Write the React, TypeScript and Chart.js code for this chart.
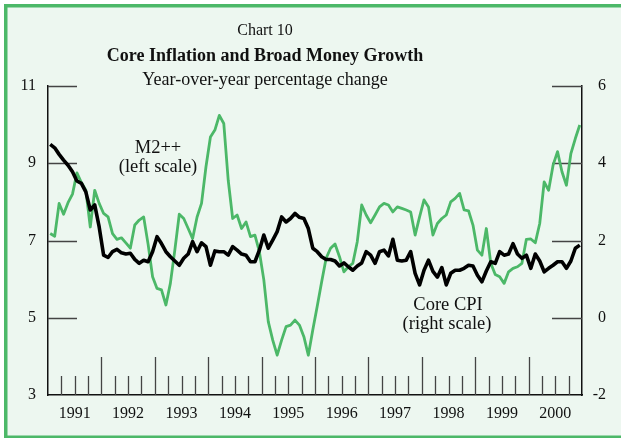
import { useEffect, useRef } from "react";
import { Chart, registerables } from "chart.js";

Chart.register(...registerables);

const years = ["1991", "1992", "1993", "1994", "1995", "1996", "1997", "1998", "1999", "2000"];

// M2++, year-over-year % change (left scale), monthly Jan 1991 - Dec 2000
const m2pp = [
  7.18, 7.11, 7.96, 7.68, 7.98, 8.2, 8.75, 8.5, 8.3, 7.35, 8.3, 7.96,
  7.7, 7.61, 7.18, 7.03, 7.07, 6.94, 6.8, 7.4, 7.53, 7.61, 6.9, 6.06,
  5.76, 5.72, 5.33, 5.89, 6.75, 7.68, 7.57, 7.31, 7.05, 7.61, 7.96, 8.91,
  9.68, 9.86, 10.24, 10.03, 8.56, 7.57, 7.66, 7.31, 7.48, 7.1, 7.14, 6.71,
  5.98, 4.9, 4.42, 4.03, 4.42, 4.77, 4.81, 4.94, 4.81, 4.51, 4.03, 4.68,
  5.3, 5.93, 6.54, 6.8, 6.91, 6.58, 6.19, 6.32, 6.41, 6.97, 7.92, 7.66,
  7.46, 7.66, 7.87, 7.96, 7.92, 7.74, 7.87, 7.83, 7.79, 7.74, 7.14, 7.61,
  8.05, 7.87, 7.14, 7.44, 7.57, 7.66, 8.0, 8.09, 8.22, 7.79, 7.77, 7.4,
  6.75, 6.62, 7.31, 6.41, 6.12, 6.06, 5.89, 6.19, 6.28, 6.32, 6.41, 7.03,
  7.04, 6.94, 7.44, 8.52, 8.3, 8.95, 9.3, 8.78, 8.43, 9.25, 9.64, 9.99,
];

// Core CPI, year-over-year % change (right scale)
const coreCpi = [
  4.49, 4.4, 4.23, 4.08, 3.95, 3.78, 3.54, 3.48, 3.26, 2.79, 2.92, 2.35,
  1.62, 1.56, 1.71, 1.77, 1.68, 1.65, 1.67, 1.51, 1.41, 1.49, 1.45, 1.71,
  2.1, 1.92, 1.71, 1.58, 1.47, 1.36, 1.54, 1.65, 1.97, 1.71, 1.94, 1.84,
  1.36, 1.73, 1.71, 1.71, 1.62, 1.84, 1.75, 1.65, 1.62, 1.45, 1.45, 1.75,
  2.14, 1.8, 2.01, 2.23, 2.61, 2.48, 2.57, 2.7, 2.6, 2.57, 2.31, 1.8,
  1.71, 1.58, 1.51, 1.51, 1.47, 1.34, 1.42, 1.32, 1.23, 1.34, 1.42, 1.71,
  1.62, 1.41, 1.71, 1.75, 1.6, 2.03, 1.49, 1.47, 1.49, 1.71, 1.15, 0.85,
  1.23, 1.49, 1.2, 1.05, 1.3, 0.85, 1.15, 1.23, 1.23, 1.28, 1.36, 1.34,
  1.1, 0.93, 1.21, 1.45, 1.41, 1.71, 1.62, 1.65, 1.92, 1.65, 1.54, 1.62,
  1.28, 1.65, 1.47, 1.19, 1.28, 1.36, 1.45, 1.45, 1.28, 1.47, 1.8, 1.88,
];

const leftTicks = [3, 5, 7, 9, 11];
const rightTicks = [-2, 0, 2, 4, 6];
const titleLines = ["Chart 10", "Core Inflation and Broad Money Growth", "Year-over-year percentage change"];
const m2Label = ["M2++", "(left scale)"];
const cpiLabel = ["Core CPI", "(right scale)"];

const GREEN = "rgb(76,184,104)";
const BG = "rgb(237,247,240)";
const SERIF = "'Liberation Serif', 'DejaVu Serif', serif";

export default function App() {
  const ref = useRef<HTMLCanvasElement>(null);

  useEffect(() => {
    const canvas = ref.current;
    if (!canvas) return;
    const months = m2pp.length;

    const decor = {
      id: "decor",
      beforeDraw(chart: any) {
        const ctx = chart.ctx;
        ctx.save();
        ctx.fillStyle = "#ffffff";
        ctx.fillRect(0, 0, chart.width, chart.height);
        ctx.fillStyle = BG;
        ctx.fillRect(4, 4, chart.width, chart.height);
        ctx.fillStyle = GREEN;
        ctx.fillRect(4, 4, chart.width, 3.5);
        ctx.fillRect(4, 4, 3.5, chart.height);
        ctx.fillRect(4, chart.height - 2.5, chart.width, 2.5);
        ctx.restore();
      },
      beforeDatasetsDraw(chart: any) {
        const ctx = chart.ctx;
        const { left, right, bottom } = chart.chartArea;
        const xs = chart.scales.x;
        const yl = chart.scales.y;
        const yr = chart.scales.y1;
        ctx.save();
        ctx.strokeStyle = "#444";
        ctx.lineWidth = 1.3;
        ctx.beginPath();
        for (let m = 3; m < months; m += 3) {
          const px = Math.round(xs.getPixelForValue(m)) + 0.5;
          const len = m % 12 === 0 ? 38 : 19;
          ctx.moveTo(px, bottom);
          ctx.lineTo(px, bottom - len);
        }
        leftTicks.slice(1).forEach((v) => {
          const py = Math.round(yl.getPixelForValue(v)) + 0.5;
          ctx.moveTo(left, py);
          ctx.lineTo(left + 29, py);
        });
        rightTicks.slice(1).forEach((v) => {
          const py = Math.round(yr.getPixelForValue(v)) + 0.5;
          ctx.moveTo(right, py);
          ctx.lineTo(right - 30, py);
        });
        ctx.stroke();
        ctx.restore();
      },
      afterDraw(chart: any) {
        const ctx = chart.ctx;
        ctx.save();
        ctx.fillStyle = "#111";
        ctx.textAlign = "center";
        ctx.textBaseline = "middle";
        ctx.font = `16px ${SERIF}`;
        ctx.fillText(titleLines[0], 265, 31);
        ctx.font = `bold 18px ${SERIF}`;
        ctx.fillText(titleLines[1], 265, 56);
        ctx.font = `18px ${SERIF}`;
        ctx.fillText(titleLines[2], 265, 80);
        ctx.font = `18.5px ${SERIF}`;
        ctx.fillText(m2Label[0], 158, 148);
        ctx.fillText(m2Label[1], 158, 167);
        ctx.fillText(cpiLabel[0], 448, 305);
        ctx.fillText(cpiLabel[1], 447, 324);
        ctx.restore();
      },
    };

    const chart = new Chart(canvas, {
      type: "line",
      data: {
        datasets: [
          {
            label: "Core CPI",
            data: coreCpi.map((v, i) => ({ x: i + 0.5, y: v })),
            yAxisID: "y1",
            borderColor: "#000",
            borderWidth: 3.6,
            pointRadius: 0,
            tension: 0,
            borderJoinStyle: "round",
            order: 0,
          },
          {
            label: "M2++",
            data: m2pp.map((v, i) => ({ x: i + 0.5, y: v })),
            yAxisID: "y",
            borderColor: GREEN,
            borderWidth: 2.8,
            pointRadius: 0,
            tension: 0,
            borderJoinStyle: "round",
            order: 1,
          },
        ],
      },
      options: {
        animation: false,
        responsive: false,
        maintainAspectRatio: false,
        layout: { padding: { top: 86, right: 15, bottom: 0, left: 0 } },
        plugins: { legend: { display: false }, tooltip: { enabled: false }, title: { display: false } },
        scales: {
          x: {
            type: "linear",
            min: 0,
            max: months,
            grid: { display: false, drawTicks: false },
            border: { display: true, color: "#111", width: 1.5 },
            afterBuildTicks: (scale: any) => {
              scale.ticks = years.map((_, k) => ({ value: 6 + 12 * k }));
            },
            afterFit: (scale: any) => {
              scale.height = 43;
            },
            ticks: {
              autoSkip: false,
              maxRotation: 0,
              padding: 9,
              color: "#111",
              font: { family: SERIF, size: 16 },
              callback: (_v: any, idx: number) => years[idx],
            },
          },
          y: {
            type: "linear",
            position: "left",
            min: leftTicks[0],
            max: leftTicks[leftTicks.length - 1],
            grid: { display: false, drawTicks: false },
            border: { display: true, color: "#111", width: 1.5 },
            afterBuildTicks: (scale: any) => {
              scale.ticks = leftTicks.map((v) => ({ value: v }));
            },
            afterFit: (scale: any) => {
              scale.width = 48;
            },
            ticks: {
              padding: 12,
              color: "#111",
              font: { family: SERIF, size: 16 },
            },
          },
          y1: {
            type: "linear",
            position: "right",
            min: rightTicks[0],
            max: rightTicks[rightTicks.length - 1],
            grid: { display: false, drawTicks: false },
            border: { display: true, color: "#111", width: 1.5 },
            afterBuildTicks: (scale: any) => {
              scale.ticks = rightTicks.map((v) => ({ value: v }));
            },
            afterFit: (scale: any) => {
              scale.width = 24;
            },
            ticks: {
              crossAlign: "far",
              color: "#111",
              font: { family: SERIF, size: 16 },
            },
          },
        },
      },
      plugins: [decor],
    } as any);

    return () => chart.destroy();
  }, []);

  return (
    <div style={{ position: "fixed", left: 0, top: 0, width: 621, height: 438 }}>
      <canvas ref={ref} width={621} height={438} style={{ display: "block" }} />
    </div>
  );
}
